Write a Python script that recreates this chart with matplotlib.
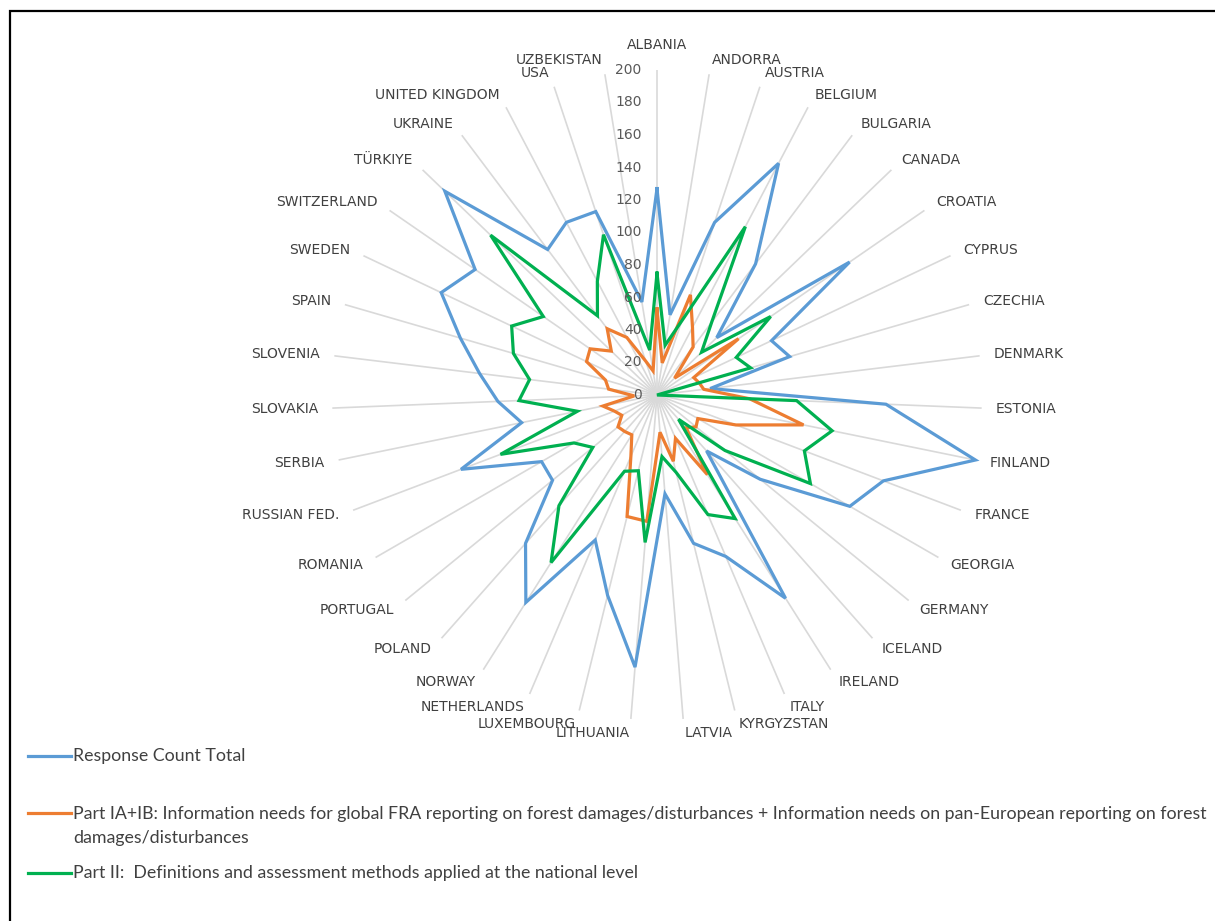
import numpy as np
import matplotlib
matplotlib.use('Agg')
import matplotlib.pyplot as plt
from matplotlib.lines import Line2D
from matplotlib.patches import Rectangle

categories = ["ALBANIA", "ANDORRA", "AUSTRIA", "BELGIUM", "BULGARIA", "CANADA", "CROATIA",
              "CYPRUS", "CZECHIA", "DENMARK", "ESTONIA", "FINLAND", "FRANCE", "GEORGIA",
              "GERMANY", "ICELAND", "IRELAND", "ITALY", "KYRGYZSTAN", "LATVIA", "LITHUANIA",
              "LUXEMBOURG", "NETHERLANDS", "NORWAY", "POLAND", "PORTUGAL", "ROMANIA",
              "RUSSIAN FED.", "SERBIA", "SLOVAKIA", "SLOVENIA", "SPAIN", "SWEDEN",
              "SWITZERLAND", "TÜRKIYE", "UKRAINE", "UNITED KINGDOM", "USA", "UZBEKISTAN"]

response_total = [127, 50, 112, 161, 101, 51, 144, 78, 85, 33, 141, 200, 149, 137,
                  82, 46, 148, 108, 94, 61, 168, 127, 97, 151, 122, 83, 82,
                  129, 85, 98, 110, 126, 147, 136, 181, 112, 120, 119, 58]

part_ia_ib = [53, 20, 65, 47, 37, 15, 61, 25, 27, 29, 57, 92, 52, 29,
              31, 27, 58, 29, 42, 23, 78, 77, 41, 29, 30, 31, 25,
              28, 34, 14, 30, 33, 48, 50, 39, 51, 40, 22, 15]

part_ii = [75, 31, 48, 117, 56, 38, 85, 54, 60, 0, 86, 110, 97, 109,
           54, 20, 90, 80, 49, 38, 91, 48, 51, 122, 91, 51, 59,
           103, 50, 85, 79, 92, 99, 85, 142, 61, 79, 104, 28]

series_names = ["Response Count Total",
                "Part IA+IB: Information needs for global FRA reporting on forest damages/disturbances + Information needs on pan-European reporting on forest\ndamages/disturbances",
                "Part II:  Definitions and assessment methods applied at the national level"]
series_colors = ["#5B9BD5", "#ED7D31", "#00B050"]
r_ticks = [0, 20, 40, 60, 80, 100, 120, 140, 160, 180, 200]

W, H = 1215, 921
fig = plt.figure(figsize=(W / 100, H / 100), dpi=100)
fig.patch.set_facecolor('white')

cx, cy, R = 657, 395, 325
ax = fig.add_axes([(cx - R) / W, (H - cy - R) / H, 2 * R / W, 2 * R / H], projection='polar')
ax.set_theta_zero_location('N')
ax.set_theta_direction(-1)
ax.set_facecolor('none')

N = len(categories)
theta = np.linspace(0, 2 * np.pi, N, endpoint=False)
ax.set_xticks(theta)
ax.set_xticklabels([])
ax.set_yticks(r_ticks)
ax.set_yticklabels([])
ax.set_ylim(0, 200)
ax.xaxis.grid(True, color='#d9d9d9', lw=1.2)
ax.yaxis.grid(False)
ax.spines['polar'].set_visible(False)
ax.tick_params(length=0)

for vals, color in zip([response_total, part_ia_ib, part_ii], series_colors):
    t = np.append(theta, theta[0])
    v = np.append(vals, vals[0])
    ax.plot(t, v, color=color, lw=2.3, solid_joinstyle='miter', clip_on=False, zorder=3)

# category labels
for th, name in zip(theta, categories):
    s, c = np.sin(th), np.cos(th)
    if abs(s) < 1e-6:
        ax.annotate(name, xy=(th, 200), xytext=(0, 13), textcoords='offset points',
                    ha='center', va='bottom', fontsize=10, color='#404040',
                    family='DejaVu Sans', annotation_clip=False)
    else:
        ax.annotate(name, xy=(th, 200), xytext=(10.2 * s, 10.2 * c), textcoords='offset points',
                    ha='left' if s > 0 else 'right', va='center', fontsize=10,
                    color='#404040', family='DejaVu Sans', annotation_clip=False)

# value axis labels
for r in r_ticks:
    ax.annotate(str(r), xy=(0, r), xytext=(-11, 0), textcoords='offset points',
                ha='right', va='center', fontsize=10, color='#595959',
                family='DejaVu Sans', annotation_clip=False)

# legend (manual, matching layout)
legend_y = [756, 813, 873]
for name, color, y in zip(series_names, series_colors, legend_y):
    yf = 1 - y / H
    fig.add_artist(Line2D([28 / W, 71 / W], [yf, yf], color=color, lw=2.3,
                          transform=fig.transFigure))
    if '\n' in name:
        fig.text(73 / W, 1 - (y - 7) / H, name, ha='left', va='top',
                 fontsize=12.8, color='#404040', family='Lato', linespacing=1.6,
                 transform=fig.transFigure)
    else:
        fig.text(73 / W, yf, name, ha='left', va='center',
                 fontsize=12.8, color='#404040', family='Lato',
                 transform=fig.transFigure)

# border of the chart area
fig.add_artist(Rectangle((10.5 / W, -0.5), 2.0, (H - 11) / H + 0.5, fill=False,
                         ec='black', lw=1.6, transform=fig.transFigure))

fig.savefig('out.png', dpi=100, facecolor='white')
